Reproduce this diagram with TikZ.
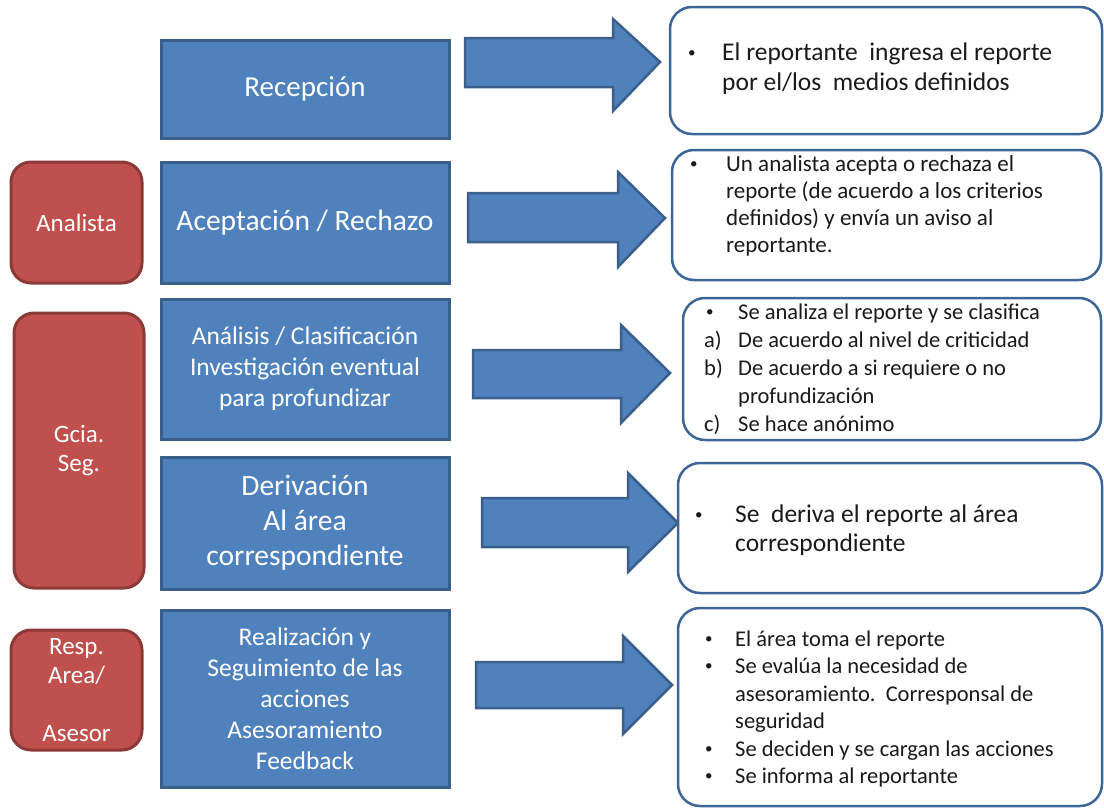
\documentclass[tikz,border=0pt]{standalone}
\usepackage{fontspec}
\setmainfont{Carlito}
\definecolor{stepblue}{HTML}{4F81BD}
\definecolor{stepedge}{HTML}{3A5F8B}
\definecolor{rolered}{HTML}{C0504D}
\definecolor{roleedge}{HTML}{8C3A38}
\definecolor{noteedge}{HTML}{3D6596}
\definecolor{noteink}{HTML}{1A1A1A}
\newcommand{\fs}[2]{\fontsize{#1}{#2}\selectfont}
% small list bullet
\newcommand{\dotmark}{\raisebox{3pt}{\fontsize{15}{15}\selectfont •}}
\begin{document}
\begin{tikzpicture}[x=1pt,y=-1pt,
  stepbox/.style={draw=stepedge, fill=stepblue, line width=3pt, text=white,
    align=center, inner sep=0pt, minimum width=288pt},
  rolebox/.style={draw=roleedge, fill=rolered, line width=3pt, rounded corners=20pt,
    text=white, align=center, inner sep=0pt, font=\fs{25}{29}},
  notebox/.style={draw=noteedge, fill=white, line width=2.5pt, rounded corners=22pt,
    inner sep=0pt},
  notetext/.style={anchor=base west, inner sep=0pt, text=noteink},
  flow/.style={draw=stepedge, fill=stepblue, line width=2.5pt, line join=miter},
]
\useasboundingbox (0,0) rectangle (1104,809);

% process steps
\node[stepbox, minimum height=98pt,  font=\fs{29}{34}] (rec) at (305,89)    {Recepción};
\node[stepbox, minimum height=121pt, font=\fs{29.5}{34}] (acc) at (305,222.5) {Aceptación / Rechazo};
\node[stepbox, minimum height=140pt, font=\fs{25.5}{31}] (ana) at (305,369)
  {Análisis / Clasificación\\Investigación eventual\\para profundizar};
\node[stepbox, minimum height=132pt, font=\fs{29.5}{35}] (der) at (305,523)
  {Derivación\\Al área\\correspondiente};
\node[stepbox, minimum height=177pt, font=\fs{25.5}{31}] (rea) at (305,698.5)
  {Realización y\\Seguimiento de las\\acciones\\Asesoramiento\\Feedback};

% roles
\node[rolebox, minimum width=131pt, minimum height=121pt] (ranalista) at (76.5,222.5) {Analista};
\node[rolebox, minimum width=130pt, minimum height=275pt] (rgcia) at (79,450.5) {Gcia.\\Seg.};
\node[rolebox, minimum width=131pt, minimum height=120pt] (rresp) at (76.5,690)
  {Resp.\\Area/\\\mbox{}\\Asesor};

% block arrows
\draw[flow] (465,38) -- (613,38) -- (613,19) -- (660,62) -- (613,111) -- (613,87) -- (465,87) -- cycle;
\draw[flow] (468,193) -- (618,193) -- (618,172) -- (665,218) -- (618,267) -- (618,242) -- (468,242) -- cycle;
\draw[flow] (473,350) -- (621,350) -- (621,325) -- (670,373) -- (621,423) -- (621,398) -- (473,398) -- cycle;
\draw[flow] (482,498) -- (628,498) -- (628,473) -- (678,523) -- (628,572) -- (628,547) -- (482,547) -- cycle;
\draw[flow] (476,662) -- (623,662) -- (623,636) -- (672,685) -- (623,734) -- (623,708) -- (476,708) -- cycle;

% descriptions
\node[notebox, minimum width=432pt, minimum height=127pt] (n1) at (886,70.5) {};
\node[notebox, minimum width=429pt, minimum height=130pt] (n2) at (886.5,215) {};
\node[notebox, minimum width=418pt, minimum height=142pt] (n3) at (892,369) {};
\node[notebox, minimum width=424pt, minimum height=130pt] (n4) at (890,528) {};
\node[notebox, minimum width=424pt, minimum height=198pt] (n5) at (890,707) {};

\node[notetext, font=\fs{25.5}{30}] (t1) at (688,60) {%
  \begin{tabular}[t]{@{}p{34pt}@{}l@{}}
  \dotmark & El reportante\ \ ingresa el reporte\\
    & por el/los\ \ medios definidos
  \end{tabular}};
\node[notetext, font=\fs{23}{27}] (t2) at (690,171) {%
  \begin{tabular}[t]{@{}p{36pt}@{}l@{}}
  \dotmark & Un analista acepta o rechaza el\\
    & reporte (de acuerdo a los criterios\\
    & definidos) y envía un aviso al\\
    & reportante.
  \end{tabular}};
\node[notetext, font=\fs{22.5}{28}] (t3) at (704,319) {%
  \begin{tabular}[t]{@{}p{34pt}@{}l@{}}
  \hspace*{2pt}\dotmark & Se analiza el reporte y se clasifica\\
  a) & De acuerdo al nivel de criticidad\\
  b) & De acuerdo a si requiere o no\\
     & profundización\\
  c) & Se hace anónimo
  \end{tabular}};
\node[notetext, font=\fs{25.5}{29}] (t4) at (695,522) {%
  \begin{tabular}[t]{@{}p{40pt}@{}l@{}}
  \dotmark & Se\ \ deriva el reporte al área\\
    & correspondiente
  \end{tabular}};
\node[notetext, font=\fs{22.5}{27.5}] (t5) at (705,646) {%
  \begin{tabular}[t]{@{}p{30pt}@{}l@{}}
  \dotmark & El área toma el reporte\\
  \dotmark & Se evalúa la necesidad de\\
    & asesoramiento.\ \ Corresponsal de\\
    & seguridad\\
  \dotmark & Se deciden y se cargan las acciones\\
  \dotmark & Se informa al reportante
  \end{tabular}};
\end{tikzpicture}
\end{document}
